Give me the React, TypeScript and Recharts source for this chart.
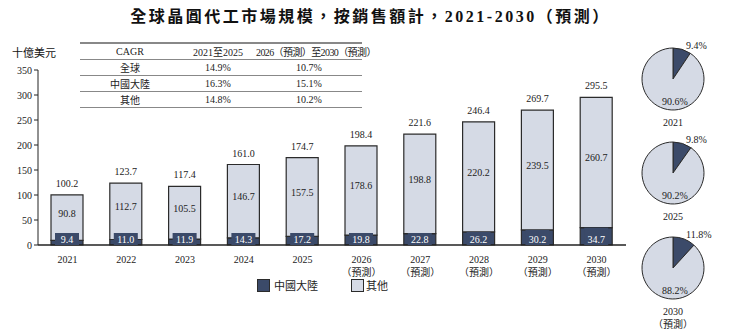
import React from "react";
import {
  BarChart,
  Bar,
  XAxis,
  YAxis,
  LabelList,
  PieChart,
  Pie,
  Cell,
} from "recharts";

const years = ["2021", "2022", "2023", "2024", "2025", "2026", "2027", "2028", "2029", "2030"];
const forecastFrom = 2026;
const china = [9.4, 11.0, 11.9, 14.3, 17.2, 19.8, 22.8, 26.2, 30.2, 34.7];
const other = [90.8, 112.7, 105.5, 146.7, 157.5, 178.6, 198.8, 220.2, 239.5, 260.7];
const totals = [100.2, 123.7, 117.4, 161.0, 174.7, 198.4, 221.6, 246.4, 269.7, 295.5];
const yTicks = [0, 50, 100, 150, 200, 250, 300, 350];

const cagrHeader = ["CAGR", "2021至2025", "2026（預測）至2030（預測）"];
const cagrRows = [
  ["全球", "14.9%", "10.7%"],
  ["中國大陸", "16.3%", "15.1%"],
  ["其他", "14.8%", "10.2%"],
];
const colWidths = [100, 76, 106];

const pieYears = ["2021", "2025", "2030"];
const pieChina = [9.4, 9.8, 11.8];
const pieOther = [90.6, 90.2, 88.2];

const DARK = "#3b4a69";
const LIGHT = "#d5dae5";
const EDGE = "#2b2b2b";
const FONT = '"Liberation Serif", "Noto Sans CJK TC", serif';

const data = years.map((y, i) => ({
  year: y,
  china: china[i],
  other: other[i],
  total: totals[i],
}));

const YearTick = (props: any) => {
  const { x, y, payload } = props;
  const forecast = Number(payload.value) >= forecastFrom;
  return (
    <g>
      <text x={x} y={y + 10} textAnchor="middle" fontSize={10} fill="#222" fontFamily={FONT}>
        {payload.value}
      </text>
      {forecast && (
        <text x={x} y={y + 23} textAnchor="middle" fontSize={10} fill="#222" fontFamily={FONT}>
          （預測）
        </text>
      )}
    </g>
  );
};

const ChinaLabel = (props: any) => {
  const { x, y, width, height, value } = props;
  const cx = x + width / 2;
  const bottom = y + height;
  const h = Math.max(height, 12);
  return (
    <g>
      <rect x={cx - 12} y={bottom - h} width={24} height={h} fill={DARK} />
      <text x={cx} y={bottom - 2} textAnchor="middle" fontSize={10} fill="#fff" fontFamily={FONT}>
        {Number(value).toFixed(1)}
      </text>
    </g>
  );
};

const OtherLabel = (props: any) => {
  const { x, y, width, height, value } = props;
  return (
    <text x={x + width / 2} y={y + height / 2 - 1} textAnchor="middle" fontSize={10} fill="#222" fontFamily={FONT}>
      {Number(value).toFixed(1)}
    </text>
  );
};

const TotalLabel = (props: any) => {
  const { x, y, width, index } = props;
  return (
    <text x={x + width / 2} y={y - 8} textAnchor="middle" fontSize={10} fill="#222" fontFamily={FONT}>
      {totals[index].toFixed(1)}
    </text>
  );
};

const PieLabel = (props: any) => {
  const { cx, cy, outerRadius, index, value } = props;
  if (index === 0) {
    return (
      <text x={cx + 13} y={cy - outerRadius + 1} textAnchor="start" fontSize={10} fill="#222" fontFamily={FONT}>
        {value.toFixed(1)}%
      </text>
    );
  }
  return (
    <text x={cx + 2} y={cy + outerRadius - 5} textAnchor="middle" fontSize={10} fill="#222" fontFamily={FONT}>
      {value.toFixed(1)}%
    </text>
  );
};

const pieTops = [34, 128, 223];

export default function App() {
  return (
    <div style={{ position: "absolute", left: 0, top: 0, width: 741, height: 336, background: "#fff", fontFamily: FONT }}>
      <div
        style={{
          position: "absolute",
          top: 3,
          left: 0,
          width: 741,
          textAlign: "center",
          fontSize: 16,
          fontWeight: "bold",
          letterSpacing: 2.5,
          color: "#111",
        }}
      >
        全球晶圓代工市場規模，按銷售額計，2021-2030（預測）
      </div>
      <div style={{ position: "absolute", left: 12, top: 44, fontSize: 11, color: "#111", fontFamily: '"Noto Sans CJK TC", sans-serif' }}>
        十億美元
      </div>

      <BarChart
        width={741}
        height={336}
        data={data}
        margin={{ top: 70, right: 115, bottom: 51, left: 0 }}
        barSize={32}
      >
        <YAxis
          width={38}
          domain={[0, 350]}
          ticks={yTicks}
          interval={0}
          tickSize={4}
          axisLine={{ stroke: "#222" }}
          tickLine={{ stroke: "#222" }}
          tick={{ fontSize: 10, fill: "#222", fontFamily: FONT }}
        />
        <XAxis
          dataKey="year"
          height={40}
          tickLine={false}
          axisLine={{ stroke: "#222", strokeWidth: 1.5 }}
          tick={<YearTick />}
          interval={0}
        />
        <Bar dataKey="china" stackId="a" fill={DARK} stroke={EDGE} strokeWidth={1.2} isAnimationActive={false}>
          <LabelList dataKey="china" content={<ChinaLabel />} />
        </Bar>
        <Bar dataKey="other" stackId="a" fill={LIGHT} stroke={EDGE} strokeWidth={1.2} isAnimationActive={false}>
          <LabelList dataKey="other" content={<OtherLabel />} />
          <LabelList dataKey="total" content={<TotalLabel />} />
        </Bar>
      </BarChart>

      <table
        style={{
          position: "absolute",
          left: 80,
          top: 42,
          width: 282,
          tableLayout: "fixed",
          borderCollapse: "collapse",
          fontSize: 10,
          color: "#222",
          borderTop: "2px solid #888",
          borderBottom: "1px solid #888",
        }}
      >
        <colgroup>
          {colWidths.map((w, i) => (
            <col key={i} style={{ width: w }} />
          ))}
        </colgroup>
        <tbody>
          <tr style={{ borderBottom: "1px solid #888", height: 16 }}>
            {cagrHeader.map((h, i) => (
              <td key={i} style={{ textAlign: "center", padding: 0, whiteSpace: "nowrap", letterSpacing: i === 2 ? -0.6 : 0 }}>{h}</td>
            ))}
          </tr>
          {cagrRows.map((r, ri) => (
            <tr key={ri} style={{ borderBottom: ri < cagrRows.length - 1 ? "1.5px solid #888" : undefined, height: 15 }}>
              {r.map((c, ci) => (
                <td key={ci} style={{ textAlign: "center", padding: 0 }}>{c}</td>
              ))}
            </tr>
          ))}
        </tbody>
      </table>

      <div style={{ position: "absolute", left: 257, top: 277, display: "flex", alignItems: "center", fontSize: 11, color: "#222" }}>
        <span style={{ width: 11, height: 11, background: DARK, border: `1px solid ${EDGE}`, display: "inline-block", marginRight: 4 }} />
        中國大陸
      </div>
      <div style={{ position: "absolute", left: 351, top: 277, display: "flex", alignItems: "center", fontSize: 11, color: "#222" }}>
        <span style={{ width: 11, height: 11, background: LIGHT, border: `1px solid ${EDGE}`, display: "inline-block", marginRight: 2 }} />
        其他
      </div>

      {pieYears.map((py, i) => (
        <div key={py} style={{ position: "absolute", left: 630, top: pieTops[i], width: 111, height: 102 }}>
          <PieChart width={111} height={82} margin={{ top: 0, right: 0, bottom: 0, left: 0 }}>
            <Pie
              data={[
                { name: "中國大陸", value: pieChina[i] },
                { name: "其他", value: pieOther[i] },
              ]}
              dataKey="value"
              cx={43}
              cy={45}
              outerRadius={31}
              startAngle={90}
              endAngle={-270}
              stroke={EDGE}
              strokeWidth={1}
              label={<PieLabel />}
              labelLine={false}
              isAnimationActive={false}
            >
              <Cell fill={DARK} />
              <Cell fill={LIGHT} />
            </Pie>
          </PieChart>
          <div style={{ position: "absolute", left: 0, width: 86, top: 82, textAlign: "center", fontSize: 10, color: "#222", lineHeight: "13px" }}>
            {py}
            {Number(py) >= forecastFrom && <div>（預測）</div>}
          </div>
        </div>
      ))}
    </div>
  );
}
